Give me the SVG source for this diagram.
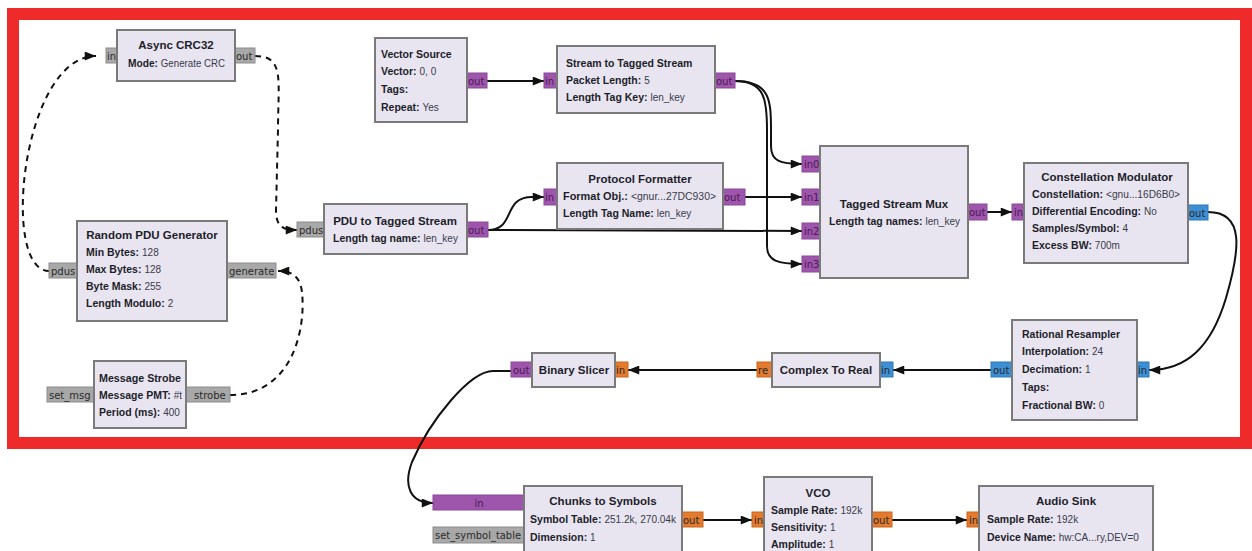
<svg xmlns="http://www.w3.org/2000/svg" width="1252" height="551" viewBox="0 0 1252 551">
<defs>
<style>
.blk{fill:#e8e5f1;stroke:#7a7a7a;stroke-width:2}
.pg{fill:#a8a8a8;stroke:#8c8c8c;stroke-width:1}
.pp{fill:#9e55ac;stroke:#8a4898;stroke-width:1}
.pb{fill:#3d8fd4;stroke:#2f78b8;stroke-width:1}
.po{fill:#e47a2e;stroke:#c9661f;stroke-width:1}
.pt{font-family:"DejaVu Sans","Liberation Sans",sans-serif;font-size:10px;fill:#2a2a2a}
.ptp{font-family:"DejaVu Sans","Liberation Sans",sans-serif;font-size:10px;fill:#4a1a55}
.ttl{font-family:"Liberation Sans",Arial,sans-serif;font-size:11.5px;font-weight:bold;fill:#1e1e2a;text-anchor:middle}
.ln{font-family:"Liberation Sans",Arial,sans-serif;font-size:10.5px;fill:#1e1e2a}
.k{font-weight:bold}
.v{fill:#3a3a4a;font-size:10px}
.c{fill:none;stroke:#111;stroke-width:2}
.d{fill:none;stroke:#111;stroke-width:2;stroke-dasharray:6 5}
</style>
<marker id="ah" viewBox="0 0 10 8" refX="10" refY="4" markerWidth="12" markerHeight="9" markerUnits="userSpaceOnUse" orient="auto">
<path d="M0,0 L10,4 L0,8 z" fill="#111"/>
</marker>
</defs>
<rect x="0" y="0" width="1252" height="551" fill="#ffffff"/>
<rect x="13" y="14" width="1233" height="429" fill="none" stroke="#ee2a2a" stroke-width="12"/>

<g id="connectors">
<path class="d" d="M49,271 C0,271 22,56 96,56" marker-end="url(#ah)"/>
<path class="d" d="M255,56 C285,56 278,80 278,130 L276,210 C276,228 284,230 297,230" marker-end="url(#ah)"/>
<path class="d" d="M230,395 C292,395 306,330 302,292 C300,276 292,271 278,271" marker-end="url(#ah)"/>
<path class="c" d="M487,81 L544,81" marker-end="url(#ah)"/>
<path class="c" d="M488,230 C516,230 502,197 532,197 L544,197" marker-end="url(#ah)"/>
<path class="c" d="M488,230 L802,231" marker-end="url(#ah)"/>
<path class="c" d="M735,81 C770,81 771,100 771,130 L771,146 C771,161 780,164 802,164" marker-end="url(#ah)"/>
<path class="c" d="M735,81 C765,81 767,100 767,130 L767,246 C767,261 778,264 802,264" marker-end="url(#ah)"/>
<path class="c" d="M745,197 L802,197" marker-end="url(#ah)"/>
<path class="c" d="M987,212 L1012,212" marker-end="url(#ah)"/>
<path class="c" d="M1208,212 C1245,212 1240,250 1226,298 C1211,348 1186,370 1149,370" marker-end="url(#ah)"/>
<path class="c" d="M991,370 L893,370" marker-end="url(#ah)"/>
<path class="c" d="M757,370 L628,370" marker-end="url(#ah)"/>
<path class="c" d="M511,371 L493,371 C470,371 430,420 412,462 C403,486 410,503 433,503" marker-end="url(#ah)"/>
<path class="c" d="M703,520 L752,520" marker-end="url(#ah)"/>
<path class="c" d="M892,520 L967,520" marker-end="url(#ah)"/>
</g>

<g id="async_crc32">
<rect class="pg" x="106" y="48" width="12" height="15"/><text class="pt" x="107" y="60">in</text>
<rect class="pg" x="234" y="48" width="21" height="15"/><text class="pt" x="236" y="60">out</text>
<rect class="blk" x="117" y="30" width="118" height="51"/>
<text class="ttl" x="176" y="49">Async CRC32</text>
<text class="ln" x="128" y="67" textLength="97" lengthAdjust="spacingAndGlyphs"><tspan class="k">Mode:</tspan> <tspan class="v">Generate CRC</tspan></text>
</g>

<g id="random_pdu_generator">
<rect class="pg" x="49" y="263" width="29" height="15"/><text class="pt" x="51" y="275">pdus</text>
<rect class="pg" x="226" y="263" width="50" height="15"/><text class="pt" x="229" y="275">generate</text>
<rect class="blk" x="77" y="221" width="150" height="100"/>
<text class="ttl" x="152" y="239">Random PDU Generator</text>
<text class="ln" x="86" y="256"><tspan class="k">Min Bytes:</tspan> <tspan class="v">128</tspan></text>
<text class="ln" x="86" y="273"><tspan class="k">Max Bytes:</tspan> <tspan class="v">128</tspan></text>
<text class="ln" x="86" y="290"><tspan class="k">Byte Mask:</tspan> <tspan class="v">255</tspan></text>
<text class="ln" x="86" y="307"><tspan class="k">Length Modulo:</tspan> <tspan class="v">2</tspan></text>
</g>

<g id="message_strobe">
<rect class="pg" x="47" y="387" width="48" height="15"/><text class="pt" x="49" y="399">set_msg</text>
<rect class="pg" x="185" y="387" width="45" height="15"/><text class="pt" x="194" y="399">strobe</text>
<rect class="blk" x="94" y="361" width="92" height="67"/>
<text class="ttl" x="140" y="382" textLength="82" lengthAdjust="spacingAndGlyphs">Message Strobe</text>
<text class="ln" x="99" y="399" textLength="83" lengthAdjust="spacingAndGlyphs"><tspan class="k">Message PMT:</tspan> <tspan class="v">#t</tspan></text>
<text class="ln" x="99" y="416"><tspan class="k">Period (ms):</tspan> <tspan class="v">400</tspan></text>
</g>

<g id="vector_source">
<rect class="pp" x="466" y="73" width="21" height="15"/><text class="ptp" x="468" y="85">out</text>
<rect class="blk" x="375" y="38" width="92" height="84"/>
<text class="ln" x="381" y="58"><tspan class="k">Vector Source</tspan></text>
<text class="ln" x="381" y="75"><tspan class="k">Vector:</tspan> <tspan class="v">0, 0</tspan></text>
<text class="ln" x="381" y="93"><tspan class="k">Tags:</tspan></text>
<text class="ln" x="381" y="111"><tspan class="k">Repeat:</tspan> <tspan class="v">Yes</tspan></text>
</g>

<g id="stream_to_tagged_stream">
<rect class="pp" x="544" y="73" width="14" height="15"/><text class="ptp" x="545" y="85">in</text>
<rect class="pp" x="714" y="73" width="21" height="15"/><text class="ptp" x="716" y="85">out</text>
<rect class="blk" x="557" y="46" width="158" height="67"/>
<text class="ln" x="566" y="67"><tspan class="k">Stream to Tagged Stream</tspan></text>
<text class="ln" x="566" y="84"><tspan class="k">Packet Length:</tspan> <tspan class="v">5</tspan></text>
<text class="ln" x="566" y="101"><tspan class="k">Length Tag Key:</tspan> <tspan class="v">len_key</tspan></text>
</g>

<g id="pdu_to_tagged_stream">
<rect class="pg" x="297" y="222" width="28" height="15"/><text class="pt" x="299" y="234">pdus</text>
<rect class="pp" x="466" y="222" width="22" height="15"/><text class="ptp" x="468" y="234">out</text>
<rect class="blk" x="324" y="204" width="143" height="50"/>
<text class="ttl" x="395" y="225">PDU to Tagged Stream</text>
<text class="ln" x="333" y="242"><tspan class="k">Length tag name:</tspan> <tspan class="v">len_key</tspan></text>
</g>

<g id="protocol_formatter">
<rect class="pp" x="544" y="189" width="14" height="16"/><text class="ptp" x="545" y="201">in</text>
<rect class="pp" x="722" y="189" width="23" height="16"/><text class="ptp" x="724" y="201">out</text>
<rect class="blk" x="557" y="163" width="166" height="66"/>
<text class="ttl" x="640" y="183">Protocol Formatter</text>
<text class="ln" x="563" y="200" textLength="153" lengthAdjust="spacingAndGlyphs"><tspan class="k">Format Obj.:</tspan> <tspan class="v">&lt;gnur...27DC930&gt;</tspan></text>
<text class="ln" x="563" y="217"><tspan class="k">Length Tag Name:</tspan> <tspan class="v">len_key</tspan></text>
</g>

<g id="tagged_stream_mux">
<rect class="pp" x="802" y="156" width="19" height="16"/><text class="ptp" x="804" y="168">in0</text>
<rect class="pp" x="802" y="189" width="19" height="16"/><text class="ptp" x="804" y="201">in1</text>
<rect class="pp" x="802" y="223" width="19" height="16"/><text class="ptp" x="804" y="235">in2</text>
<rect class="pp" x="802" y="256" width="19" height="16"/><text class="ptp" x="804" y="268">in3</text>
<rect class="pp" x="967" y="204" width="20" height="16"/><text class="ptp" x="969" y="216">out</text>
<rect class="blk" x="820" y="146" width="148" height="132"/>
<text class="ttl" x="894" y="208">Tagged Stream Mux</text>
<text class="ln" x="829" y="225" textLength="131" lengthAdjust="spacingAndGlyphs"><tspan class="k">Length tag names:</tspan> <tspan class="v">len_key</tspan></text>
</g>

<g id="constellation_modulator">
<rect class="pp" x="1012" y="204" width="13" height="16"/><text class="ptp" x="1014" y="216">in</text>
<rect class="pb" x="1187" y="205" width="21" height="15"/><text class="pt" x="1189" y="217">out</text>
<rect class="blk" x="1024" y="163" width="164" height="100"/>
<text class="ttl" x="1107" y="181">Constellation Modulator</text>
<text class="ln" x="1032" y="198" textLength="148" lengthAdjust="spacingAndGlyphs"><tspan class="k">Constellation:</tspan> <tspan class="v">&lt;gnu...16D6B0&gt;</tspan></text>
<text class="ln" x="1032" y="215"><tspan class="k">Differential Encoding:</tspan> <tspan class="v">No</tspan></text>
<text class="ln" x="1032" y="232"><tspan class="k">Samples/Symbol:</tspan> <tspan class="v">4</tspan></text>
<text class="ln" x="1032" y="249"><tspan class="k">Excess BW:</tspan> <tspan class="v">700m</tspan></text>
</g>

<g id="rational_resampler">
<rect class="pb" x="991" y="362" width="22" height="15"/><text class="pt" x="993" y="374">out</text>
<rect class="pb" x="1136" y="362" width="13" height="15"/><text class="pt" x="1138" y="374">in</text>
<rect class="blk" x="1012" y="320" width="125" height="100"/>
<text class="ln" x="1022" y="338"><tspan class="k">Rational Resampler</tspan></text>
<text class="ln" x="1022" y="355"><tspan class="k">Interpolation:</tspan> <tspan class="v">24</tspan></text>
<text class="ln" x="1022" y="373"><tspan class="k">Decimation:</tspan> <tspan class="v">1</tspan></text>
<text class="ln" x="1022" y="391"><tspan class="k">Taps:</tspan></text>
<text class="ln" x="1022" y="409"><tspan class="k">Fractional BW:</tspan> <tspan class="v">0</tspan></text>
</g>

<g id="complex_to_real">
<rect class="po" x="757" y="362" width="16" height="15"/><text class="pt" x="758" y="374">re</text>
<rect class="pb" x="879" y="362" width="14" height="15"/><text class="pt" x="881" y="374">in</text>
<rect class="blk" x="772" y="353" width="108" height="34"/>
<text class="ttl" x="826" y="374">Complex To Real</text>
</g>

<g id="binary_slicer">
<rect class="pp" x="511" y="362" width="22" height="15"/><text class="ptp" x="513" y="374">out</text>
<rect class="po" x="614" y="362" width="14" height="15"/><text class="pt" x="616" y="374">in</text>
<rect class="blk" x="532" y="353" width="83" height="34"/>
<text class="ttl" x="574" y="374">Binary Slicer</text>
</g>

<g id="chunks_to_symbols">
<rect class="pp" x="433" y="495" width="92" height="15"/><text class="ptp" x="479" y="507" text-anchor="middle">in</text>
<rect class="pg" x="433" y="527" width="92" height="16"/><text class="pt" x="435" y="539" textLength="86" lengthAdjust="spacingAndGlyphs">set_symbol_table</text>
<rect class="po" x="681" y="512" width="22" height="15"/><text class="pt" x="683" y="524">out</text>
<rect class="blk" x="524" y="486" width="158" height="80"/>
<text class="ttl" x="603" y="505">Chunks to Symbols</text>
<text class="ln" x="530" y="523" textLength="146" lengthAdjust="spacingAndGlyphs"><tspan class="k">Symbol Table:</tspan> <tspan class="v">251.2k, 270.04k</tspan></text>
<text class="ln" x="530" y="541"><tspan class="k">Dimension:</tspan> <tspan class="v">1</tspan></text>
</g>

<g id="vco">
<rect class="po" x="752" y="512" width="13" height="15"/><text class="pt" x="754" y="524">in</text>
<rect class="po" x="871" y="512" width="21" height="15"/><text class="pt" x="873" y="524">out</text>
<rect class="blk" x="764" y="477" width="108" height="90"/>
<text class="ttl" x="818" y="497">VCO</text>
<text class="ln" x="771" y="514"><tspan class="k">Sample Rate:</tspan> <tspan class="v">192k</tspan></text>
<text class="ln" x="771" y="531"><tspan class="k">Sensitivity:</tspan> <tspan class="v">1</tspan></text>
<text class="ln" x="771" y="548"><tspan class="k">Amplitude:</tspan> <tspan class="v">1</tspan></text>
</g>

<g id="audio_sink">
<rect class="po" x="967" y="512" width="13" height="15"/><text class="pt" x="969" y="524">in</text>
<rect class="blk" x="979" y="486" width="174" height="80"/>
<text class="ttl" x="1066" y="505">Audio Sink</text>
<text class="ln" x="987" y="523"><tspan class="k">Sample Rate:</tspan> <tspan class="v">192k</tspan></text>
<text class="ln" x="987" y="541"><tspan class="k">Device Name:</tspan> <tspan class="v">hw:CA...ry,DEV=0</tspan></text>
</g>
</svg>
